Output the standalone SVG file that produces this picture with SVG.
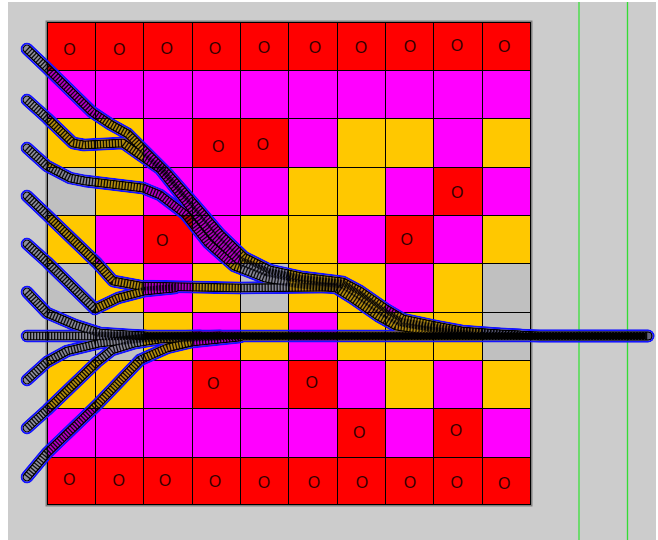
<svg xmlns="http://www.w3.org/2000/svg" xmlns:xlink="http://www.w3.org/1999/xlink" width="658" height="540" viewBox="0 0 658 540">
<style>
.r{fill:#ff0000;stroke:#000;stroke-width:1}
.m{fill:#ff00ff;stroke:#000;stroke-width:1}
.y{fill:#ffc800;stroke:#000;stroke-width:1}
.g{fill:#c0c0c0;stroke:#000;stroke-width:1}
.o{font-family:"Liberation Sans",Arial,sans-serif;font-size:16px;fill:#300;text-anchor:middle}
</style>
<defs>
<g id="paths" fill="none">
<path d="M27,49 L47,68 L92,112 L110,124 L128,134 L144,150 L168,174 L196,206 L220,234 L244,257 L270,270 L302,277 L343,282 L360,291 L386,309 L403,319 L436,326 L462,331 L500,334 L540,336 L648,336"/>
<path d="M27,100 L47,118 L73,143 L84,145 L123,143 L140,155 L160,169 L190,207 L213,236 L238,260 L267,272 L300,279 L342,284 L358,294 L383,312 L400,322 L433,328 L465,332 L520,335"/>
<path d="M27,148 L47,166 L70,178 L85,181 L143,188 L160,195 L185,214 L208,243 L234,266 L265,278 L300,284 L336,288 L352,298 L378,316 L396,326 L430,331 L470,335"/>
<path d="M27,196 L47,215 L97,263 L113,281 L140,286 L240,288 L338,287"/>
<path d="M27,244 L47,262 L95,309 L118,298 L145,291 L175,288"/>
<path d="M27,292 L47,313 L75,325 L100,333 L145,336"/>
<path d="M27,336 L648,336"/>
<path d="M27,380 L47,362 L67,351 L100,343 L143,338 L200,336"/>
<path d="M27,428 L47,410 L97,362 L112,350 L135,343 L160,339 L220,336"/>
<path d="M27,477 L47,453 L97,405 L140,360 L167,348 L192,342 L240,337"/>
</g>
<mask id="hollow" maskUnits="userSpaceOnUse" x="0" y="0" width="658" height="540">
<use xlink:href="#paths" href="#paths" stroke="#fff" stroke-width="13" stroke-linecap="round" stroke-linejoin="round"/>
<use xlink:href="#paths" href="#paths" stroke="#000" stroke-width="9" stroke-linecap="round" stroke-linejoin="round"/>
</mask>
<mask id="hollowIn" maskUnits="userSpaceOnUse" x="0" y="0" width="658" height="540">
<use xlink:href="#paths" href="#paths" stroke="#fff" stroke-width="9" stroke-linecap="round" stroke-linejoin="round"/>
<use xlink:href="#paths" href="#paths" stroke="#000" stroke-width="6.4" stroke-linecap="round" stroke-linejoin="round"/>
</mask>
</defs>
<rect x="0" y="0" width="658" height="540" fill="#ffffff"/>
<rect x="8" y="2" width="648" height="538" fill="#cccccc"/>
<g id="guides">
<line x1="579" y1="2" x2="579" y2="540" stroke="#55dd55" stroke-width="1.6"/>
<line x1="627.5" y1="2" x2="627.5" y2="540" stroke="#33dd33" stroke-width="1.3"/>
</g>
<g id="grid">
<rect x="46.5" y="21.5" width="485" height="484" fill="none" stroke="#808080" stroke-width="2"/>
<g id="row0">
<rect class="r" x="47.5" y="22.5" width="48" height="48"/><rect class="r" x="95.5" y="22.5" width="48" height="48"/><rect class="r" x="143.5" y="22.5" width="49" height="48"/><rect class="r" x="192.5" y="22.5" width="48" height="48"/><rect class="r" x="240.5" y="22.5" width="48" height="48"/><rect class="r" x="288.5" y="22.5" width="49" height="48"/><rect class="r" x="337.5" y="22.5" width="48" height="48"/><rect class="r" x="385.5" y="22.5" width="48" height="48"/><rect class="r" x="433.5" y="22.5" width="49" height="48"/><rect class="r" x="482.5" y="22.5" width="48" height="48"/>
</g>
<g id="row1">
<rect class="m" x="47.5" y="70.5" width="48" height="48"/><rect class="m" x="95.5" y="70.5" width="48" height="48"/><rect class="m" x="143.5" y="70.5" width="49" height="48"/><rect class="m" x="192.5" y="70.5" width="48" height="48"/><rect class="m" x="240.5" y="70.5" width="48" height="48"/><rect class="m" x="288.5" y="70.5" width="49" height="48"/><rect class="m" x="337.5" y="70.5" width="48" height="48"/><rect class="m" x="385.5" y="70.5" width="48" height="48"/><rect class="m" x="433.5" y="70.5" width="49" height="48"/><rect class="m" x="482.5" y="70.5" width="48" height="48"/>
</g>
<g id="row2">
<rect class="y" x="47.5" y="118.5" width="48" height="49"/><rect class="y" x="95.5" y="118.5" width="48" height="49"/><rect class="m" x="143.5" y="118.5" width="49" height="49"/><rect class="r" x="192.5" y="118.5" width="48" height="49"/><rect class="r" x="240.5" y="118.5" width="48" height="49"/><rect class="m" x="288.5" y="118.5" width="49" height="49"/><rect class="y" x="337.5" y="118.5" width="48" height="49"/><rect class="y" x="385.5" y="118.5" width="48" height="49"/><rect class="m" x="433.5" y="118.5" width="49" height="49"/><rect class="y" x="482.5" y="118.5" width="48" height="49"/>
</g>
<g id="row3">
<rect class="g" x="47.5" y="167.5" width="48" height="48"/><rect class="y" x="95.5" y="167.5" width="48" height="48"/><rect class="m" x="143.5" y="167.5" width="49" height="48"/><rect class="m" x="192.5" y="167.5" width="48" height="48"/><rect class="m" x="240.5" y="167.5" width="48" height="48"/><rect class="y" x="288.5" y="167.5" width="49" height="48"/><rect class="y" x="337.5" y="167.5" width="48" height="48"/><rect class="m" x="385.5" y="167.5" width="48" height="48"/><rect class="r" x="433.5" y="167.5" width="49" height="48"/><rect class="m" x="482.5" y="167.5" width="48" height="48"/>
</g>
<g id="row4">
<rect class="y" x="47.5" y="215.5" width="48" height="48"/><rect class="m" x="95.5" y="215.5" width="48" height="48"/><rect class="r" x="143.5" y="215.5" width="49" height="48"/><rect class="m" x="192.5" y="215.5" width="48" height="48"/><rect class="y" x="240.5" y="215.5" width="48" height="48"/><rect class="y" x="288.5" y="215.5" width="49" height="48"/><rect class="m" x="337.5" y="215.5" width="48" height="48"/><rect class="r" x="385.5" y="215.5" width="48" height="48"/><rect class="m" x="433.5" y="215.5" width="49" height="48"/><rect class="y" x="482.5" y="215.5" width="48" height="48"/>
</g>
<g id="row5">
<rect class="g" x="47.5" y="263.5" width="48" height="49"/><rect class="y" x="95.5" y="263.5" width="48" height="49"/><rect class="m" x="143.5" y="263.5" width="49" height="49"/><rect class="y" x="192.5" y="263.5" width="48" height="49"/><rect class="g" x="240.5" y="263.5" width="48" height="49"/><rect class="y" x="288.5" y="263.5" width="49" height="49"/><rect class="y" x="337.5" y="263.5" width="48" height="49"/><rect class="m" x="385.5" y="263.5" width="48" height="49"/><rect class="y" x="433.5" y="263.5" width="49" height="49"/><rect class="g" x="482.5" y="263.5" width="48" height="49"/>
</g>
<g id="row6">
<rect class="g" x="47.5" y="312.5" width="48" height="48"/><rect class="g" x="95.5" y="312.5" width="48" height="48"/><rect class="y" x="143.5" y="312.5" width="49" height="48"/><rect class="m" x="192.5" y="312.5" width="48" height="48"/><rect class="y" x="240.5" y="312.5" width="48" height="48"/><rect class="m" x="288.5" y="312.5" width="49" height="48"/><rect class="y" x="337.5" y="312.5" width="48" height="48"/><rect class="y" x="385.5" y="312.5" width="48" height="48"/><rect class="y" x="433.5" y="312.5" width="49" height="48"/><rect class="g" x="482.5" y="312.5" width="48" height="48"/>
</g>
<g id="row7">
<rect class="y" x="47.5" y="360.5" width="48" height="48"/><rect class="y" x="95.5" y="360.5" width="48" height="48"/><rect class="m" x="143.5" y="360.5" width="49" height="48"/><rect class="r" x="192.5" y="360.5" width="48" height="48"/><rect class="m" x="240.5" y="360.5" width="48" height="48"/><rect class="r" x="288.5" y="360.5" width="49" height="48"/><rect class="m" x="337.5" y="360.5" width="48" height="48"/><rect class="y" x="385.5" y="360.5" width="48" height="48"/><rect class="m" x="433.5" y="360.5" width="49" height="48"/><rect class="y" x="482.5" y="360.5" width="48" height="48"/>
</g>
<g id="row8">
<rect class="m" x="47.5" y="408.5" width="48" height="49"/><rect class="m" x="95.5" y="408.5" width="48" height="49"/><rect class="m" x="143.5" y="408.5" width="49" height="49"/><rect class="m" x="192.5" y="408.5" width="48" height="49"/><rect class="m" x="240.5" y="408.5" width="48" height="49"/><rect class="m" x="288.5" y="408.5" width="49" height="49"/><rect class="r" x="337.5" y="408.5" width="48" height="49"/><rect class="m" x="385.5" y="408.5" width="48" height="49"/><rect class="r" x="433.5" y="408.5" width="49" height="49"/><rect class="m" x="482.5" y="408.5" width="48" height="49"/>
</g>
<g id="row9">
<rect class="r" x="47.5" y="457.5" width="48" height="47"/><rect class="r" x="95.5" y="457.5" width="48" height="47"/><rect class="r" x="143.5" y="457.5" width="49" height="47"/><rect class="r" x="192.5" y="457.5" width="48" height="47"/><rect class="r" x="240.5" y="457.5" width="48" height="47"/><rect class="r" x="288.5" y="457.5" width="49" height="47"/><rect class="r" x="337.5" y="457.5" width="48" height="47"/><rect class="r" x="385.5" y="457.5" width="48" height="47"/><rect class="r" x="433.5" y="457.5" width="49" height="47"/><rect class="r" x="482.5" y="457.5" width="48" height="47"/>
</g>
</g>
<g id="obstacles">
<text class="o" x="69.5" y="55">O</text><text class="o" x="119.3" y="54.5">O</text><text class="o" x="166.7" y="53.5">O</text><text class="o" x="215" y="53.8">O</text><text class="o" x="264" y="52.8">O</text><text class="o" x="315" y="52.8">O</text><text class="o" x="361" y="52.8">O</text><text class="o" x="410" y="51.8">O</text><text class="o" x="457" y="51">O</text><text class="o" x="504.3" y="51.8">O</text>
<text class="o" x="218.3" y="151.5">O</text><text class="o" x="262.7" y="150.1">O</text>
<text class="o" x="457.3" y="197.8">O</text>
<text class="o" x="162.3" y="246.1">O</text><text class="o" x="406.7" y="244.5">O</text>
<text class="o" x="213.3" y="389.1">O</text><text class="o" x="311.7" y="388.1">O</text>
<text class="o" x="359.3" y="437.5">O</text><text class="o" x="456" y="435.8">O</text>
<text class="o" x="69.3" y="484.8">O</text><text class="o" x="118.7" y="485.8">O</text><text class="o" x="165" y="485.8">O</text><text class="o" x="215" y="486.8">O</text><text class="o" x="264" y="487.8">O</text><text class="o" x="314" y="487.8">O</text><text class="o" x="362" y="487.8">O</text><text class="o" x="410" y="487.8">O</text><text class="o" x="456.7" y="487.8">O</text><text class="o" x="504.3" y="488.8">O</text>
</g>
<g id="trajectories">
<use xlink:href="#paths" href="#paths" stroke="#000030" stroke-opacity="0.3" stroke-width="9" stroke-linecap="round" stroke-linejoin="round"/>
<g mask="url(#hollow)"><use xlink:href="#paths" href="#paths" stroke="#1414ff" stroke-width="13" stroke-linecap="round" stroke-linejoin="round"/></g>
<g mask="url(#hollowIn)"><use xlink:href="#paths" href="#paths" stroke="#000" stroke-width="9" stroke-linecap="round" stroke-linejoin="round"/></g>
<use xlink:href="#paths" href="#paths" stroke="#000" stroke-opacity="0.9" stroke-width="8" stroke-dasharray="1.3 1.7" stroke-linecap="butt" stroke-linejoin="round"/>
<path d="M145,336 L645,336" fill="none" stroke="#000" stroke-width="6"/>
</g>
</svg>
